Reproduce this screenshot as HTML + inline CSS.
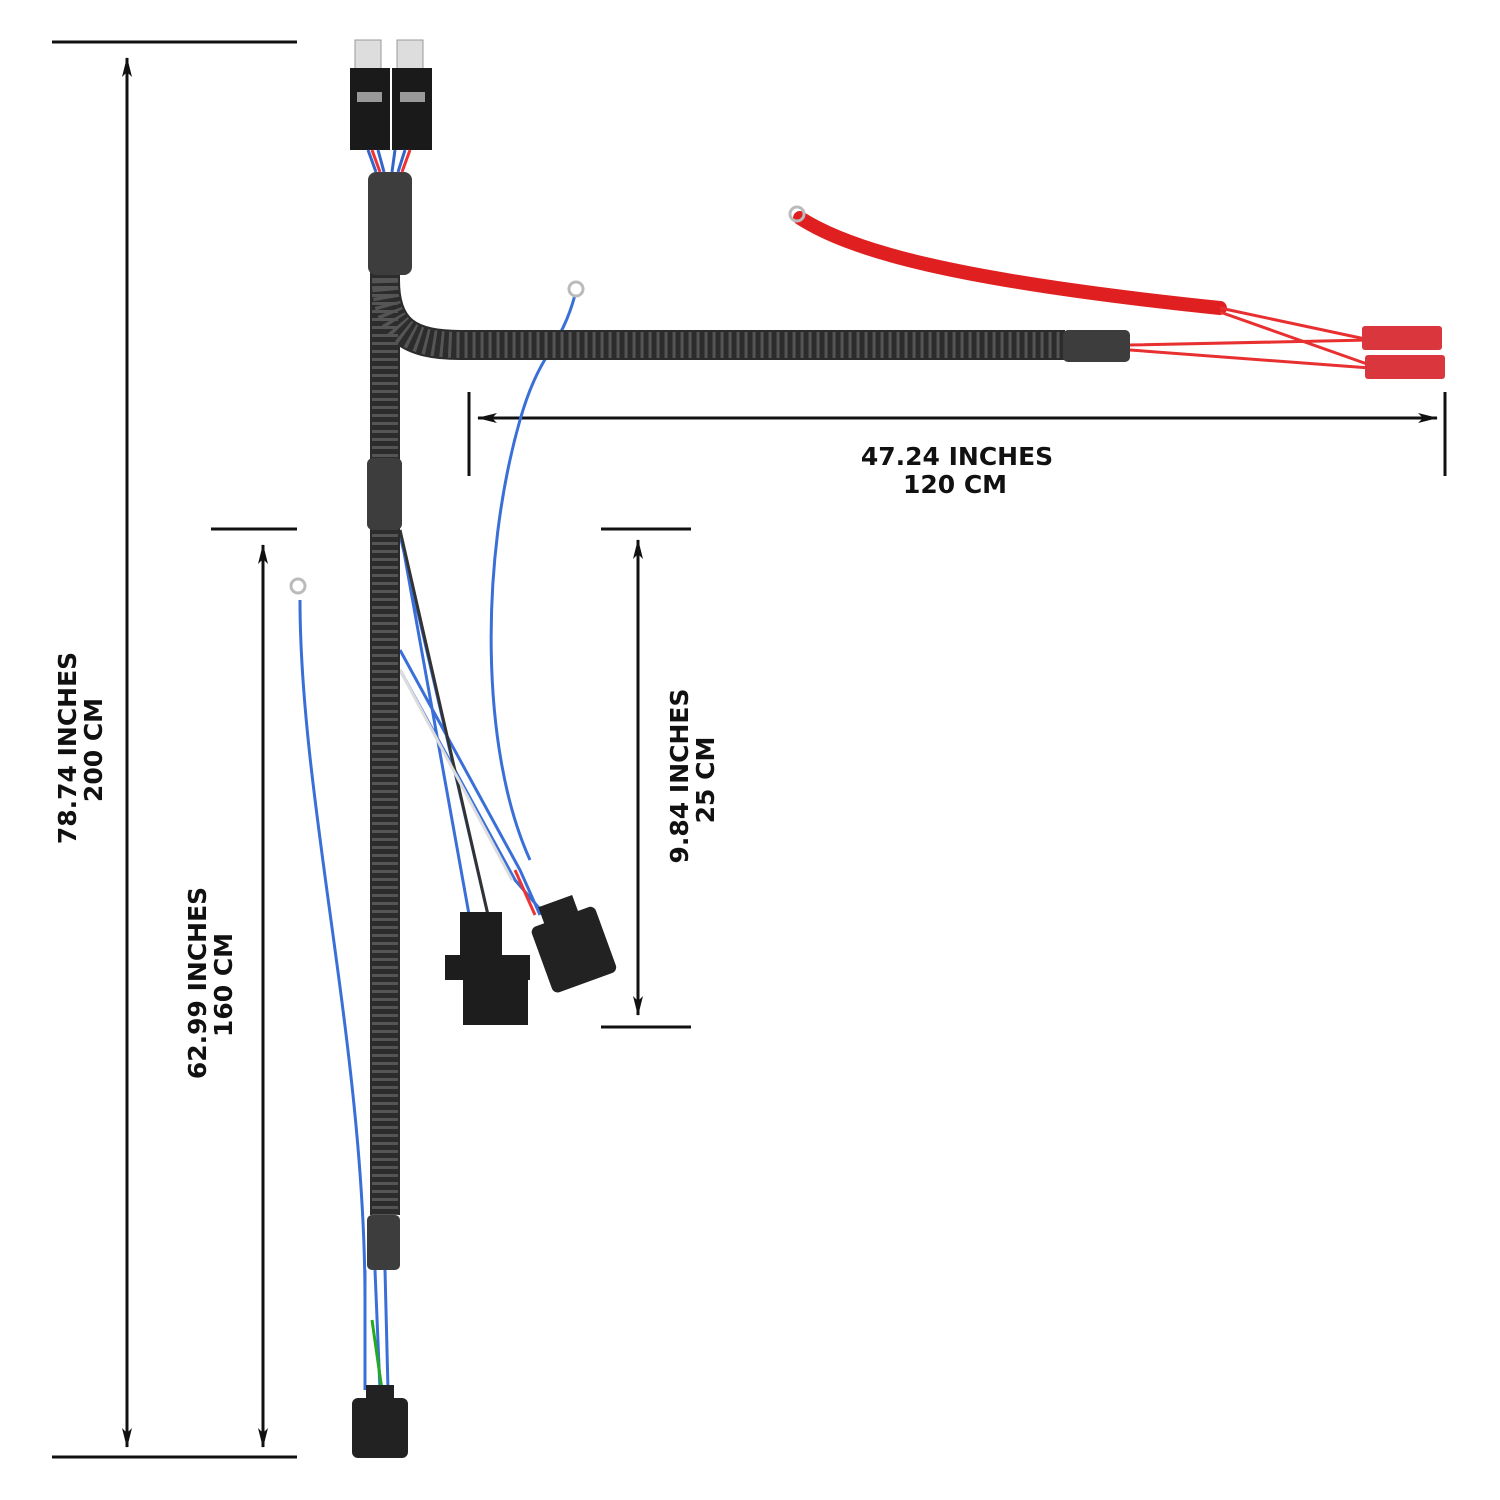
<!DOCTYPE html>
<html><head><meta charset="utf-8"><style>
html,body{margin:0;padding:0;background:#fff;}
svg{display:block}
text{font-family:"DejaVu Sans","Liberation Sans",sans-serif;font-weight:bold;fill:#111;font-size:25px}
</style></head><body>
<svg width="1500" height="1500" viewBox="0 0 1500 1500" xmlns="http://www.w3.org/2000/svg">
<defs>
<marker id="a" viewBox="0 0 20 10" refX="19" refY="5" markerWidth="20" markerHeight="10" markerUnits="userSpaceOnUse" orient="auto-start-reverse"><path d="M0,0 L20,5 L0,10 L5,5z" fill="#111"/></marker>
</defs>
<g stroke="#111" stroke-width="3" fill="none">
<line x1="52" y1="42" x2="297" y2="42"/>
<line x1="52" y1="1457" x2="297" y2="1457"/>
<line x1="127" y1="58" x2="127" y2="1447" marker-start="url(#a)" marker-end="url(#a)"/>
<line x1="211" y1="529" x2="297" y2="529"/>
<line x1="263" y1="545" x2="263" y2="1447" marker-start="url(#a)" marker-end="url(#a)"/>
<line x1="601" y1="529" x2="691" y2="529"/>
<line x1="601" y1="1027" x2="691" y2="1027"/>
<line x1="638" y1="540" x2="638" y2="1015" marker-start="url(#a)" marker-end="url(#a)"/>
<line x1="469" y1="392" x2="469" y2="476"/>
<line x1="1445" y1="392" x2="1445" y2="476"/>
<line x1="478" y1="418" x2="1437" y2="418" marker-start="url(#a)" marker-end="url(#a)"/>
</g>
<text transform="translate(76,748) rotate(-90)" text-anchor="middle">78.74 INCHES</text>
<text transform="translate(102,750) rotate(-90)" text-anchor="middle">200 CM</text>
<text transform="translate(206,983) rotate(-90)" text-anchor="middle">62.99 INCHES</text>
<text transform="translate(232,985) rotate(-90)" text-anchor="middle">160 CM</text>
<text transform="translate(688,776) rotate(-90)" text-anchor="middle">9.84 INCHES</text>
<text transform="translate(714,780) rotate(-90)" text-anchor="middle">25 CM</text>
<text x="957" y="465" text-anchor="middle">47.24 INCHES</text>
<text x="955" y="493" text-anchor="middle">120 CM</text>

<!-- red wires -->
<path d="M800,218 C850,250 950,280 1220,308" stroke="#e02020" stroke-width="14" fill="none" stroke-linecap="round"/>
<path d="M1220,308 L1370,340 M1220,312 L1370,365 M1130,345 L1370,340 M1130,350 L1370,368" stroke="#e83030" stroke-width="3" fill="none"/>
<circle cx="797" cy="214" r="7" fill="none" stroke="#bbb" stroke-width="3"/>
<rect x="1362" y="326" width="80" height="24" rx="3" fill="#d9363e"/>
<rect x="1365" y="355" width="80" height="24" rx="3" fill="#d9363e"/>

<!-- blue wires -->
<path d="M575,295 C560,350 540,350 520,420 C480,560 480,750 530,860" stroke="#3a6fd8" stroke-width="3" fill="none"/>
<circle cx="576" cy="289" r="7" fill="none" stroke="#bbb" stroke-width="3"/>
<path d="M300,600 C300,800 365,1050 365,1300" stroke="#3a6fd8" stroke-width="3" fill="none"/>
<circle cx="298" cy="586" r="7" fill="none" stroke="#bbb" stroke-width="3"/>
<path d="M400,530 L470,920 M400,535 L488,915 M400,650 L520,870 L540,915 M400,670 L515,880 L545,915" stroke="#3a6fd8" stroke-width="3" fill="none"/>
<path d="M400,530 L488,915" stroke="#333" stroke-width="3"/>
<path d="M400,670 L512,880" stroke="#ddd" stroke-width="3"/>
<path d="M515,870 L535,915" stroke="#e33" stroke-width="3"/>
<path d="M365,1270 L365,1390 M375,1270 L380,1390 M385,1270 L388,1390" stroke="#3a6fd8" stroke-width="3"/>
<path d="M372,1320 L382,1390" stroke="#2a2" stroke-width="3"/>

<!-- corrugated tube -->
<g fill="none" stroke-linecap="butt">
<path d="M385,270 L385,1215 M385,280 C385,330 410,345 460,345 L1065,345" stroke="#2c2c2c" stroke-width="30"/>
<path d="M385,270 L385,1215 M385,280 C385,330 410,345 460,345 L1065,345" stroke="#555" stroke-width="26" stroke-dasharray="3 5"/>
</g>
<rect x="368" y="172" width="44" height="103" rx="8" fill="#3d3d3d"/>
<rect x="367" y="458" width="35" height="72" rx="6" fill="#3d3d3d"/>
<rect x="367" y="1215" width="33" height="55" rx="5" fill="#3d3d3d"/>
<rect x="1063" y="330" width="67" height="32" rx="5" fill="#3d3d3d"/>

<!-- relays -->
<rect x="355" y="40" width="26" height="30" fill="#ddd" stroke="#999"/>
<rect x="397" y="40" width="26" height="30" fill="#ddd" stroke="#999"/>
<rect x="350" y="68" width="40" height="82" fill="#1a1a1a"/>
<rect x="392" y="68" width="40" height="82" fill="#1a1a1a"/>
<rect x="357" y="92" width="25" height="10" fill="#999"/>
<rect x="400" y="92" width="25" height="10" fill="#999"/>
<path d="M368,150 L376,172 M378,150 L384,172 M395,150 L392,172 M405,150 L398,172" stroke="#36c" stroke-width="3"/>
<path d="M372,150 L380,172 M410,150 L402,172" stroke="#e33" stroke-width="3"/>

<!-- connectors -->
<rect x="460" y="912" width="42" height="48" fill="#1d1d1d"/>
<rect x="445" y="955" width="85" height="25" fill="#1d1d1d"/>
<rect x="463" y="975" width="65" height="50" fill="#1d1d1d"/>
<g transform="rotate(-20 573 950)"><rect x="540" y="915" width="68" height="70" rx="6" fill="#222"/><rect x="555" y="898" width="36" height="20" fill="#222"/></g>
<rect x="352" y="1398" width="56" height="60" rx="6" fill="#222"/>
<rect x="366" y="1385" width="28" height="16" fill="#222"/>
</svg>
</body></html>
